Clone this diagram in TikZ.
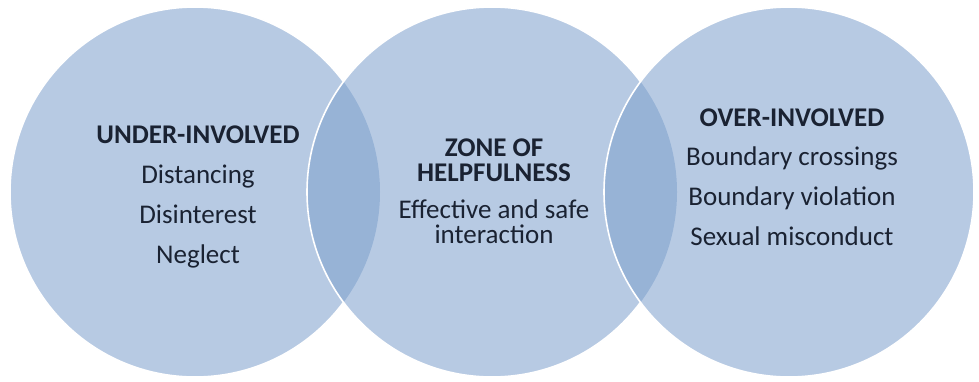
\documentclass[tikz,border=0pt]{standalone}
\usepackage{fontspec}
\setmainfont{Carlito}
\definecolor{ringblue}{RGB}{124,159,204}
\definecolor{inkblue}{RGB}{26,34,50}
\begin{document}
\begin{tikzpicture}[x=1pt,y=1pt,
  zone/.style={circle,minimum size=370pt,inner sep=0pt,fill=ringblue,fill opacity=0.55},
  rim/.style={draw=white,line width=1.6pt},
  head/.style={anchor=base,text=inkblue,font=\fontsize{27}{30}\selectfont\bfseries,inner sep=0pt},
  item/.style={anchor=base,text=inkblue,font=\fontsize{27}{30}\selectfont,inner sep=0pt}]
\useasboundingbox (0,0) rectangle (979,381);
% three overlapping zones
\node[zone] (L) at (195,189) {};
\node[zone] (M) at (492,189) {};
\node[zone] (R) at (789,189) {};
% white rims; each rim is hidden where the next zone lies over it
\begin{scope}[even odd rule]
  \clip (0,0) rectangle (979,381) (M.center) circle[radius=185];
  \draw[rim] (L.center) circle[radius=185];
\end{scope}
\begin{scope}[even odd rule]
  \clip (0,0) rectangle (979,381) (R.center) circle[radius=185];
  \draw[rim] (M.center) circle[radius=185];
\end{scope}
\draw[rim] (R.center) circle[radius=185];
% under-involved
\node[head] (l0) at (198,238) {UNDER-INVOLVED};
\node[item] (l1) at (198,198) {Distancing};
\node[item] (l2) at (198,158) {Disinterest};
\node[item] (l3) at (198,118) {Neglect};
% zone of helpfulness
\node[head] (m0) at (494,225) {ZONE OF};
\node[head] (m1) at (494,200) {HELPFULNESS};
\node[item] (m2) at (494,163) {Effective and safe};
\node[item] (m3) at (494,138) {interaction};
% over-involved
\node[head] (r0) at (792,255) {OVER-INVOLVED};
\node[item] (r1) at (792,216) {Boundary crossings};
\node[item] (r2) at (792,176) {Boundary violation};
\node[item] (r3) at (792,136) {Sexual misconduct};
\end{tikzpicture}
\end{document}
